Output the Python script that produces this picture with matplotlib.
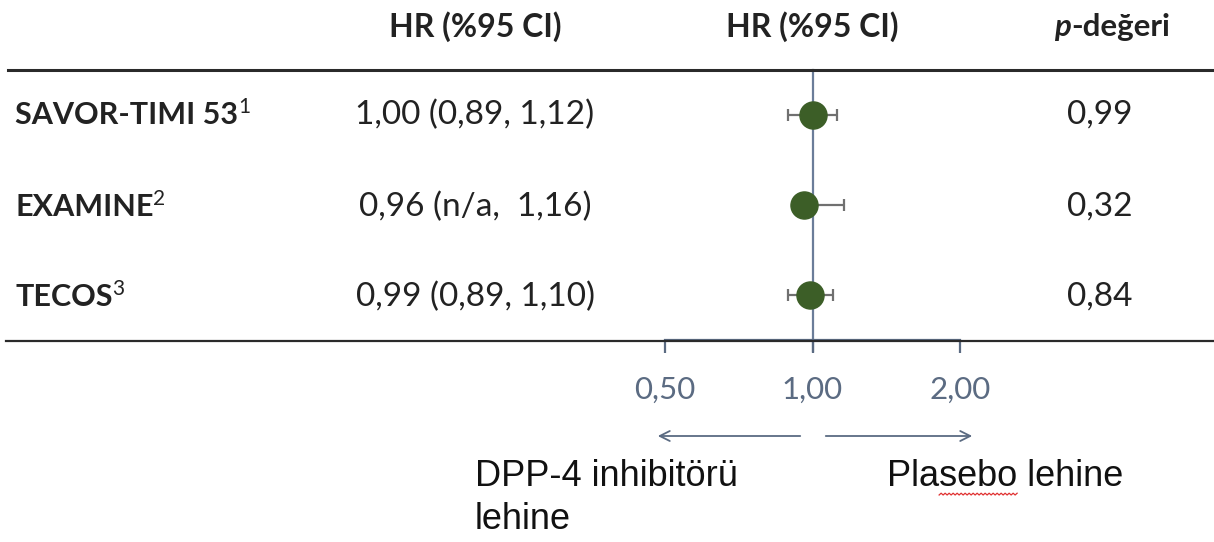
import matplotlib
matplotlib.use("Agg")
import matplotlib.pyplot as plt
from matplotlib.lines import Line2D
from matplotlib.patches import FancyArrowPatch
import numpy as np

# forest plot data
studies = ["SAVOR-TIMI 53", "EXAMINE", "TECOS"]
refs = ["1", "2", "3"]
hr = [1.00, 0.96, 0.99]
ci_low = [0.89, None, 0.89]
ci_high = [1.12, 1.16, 1.10]
hr_text = ["1,00 (0,89, 1,12)", "0,96 (n/a,  1,16)", "0,99 (0,89, 1,10)"]
p_values = ["0,99", "0,32", "0,84"]
ticks = [0.5, 1.0, 2.0]
tick_labels = ["0,50", "1,00", "2,00"]

W, H = 1214, 542
FONT = "Lato"
SLATE = "#5b6b82"
GREEN = "#3c5e27"
TXT = "#222222"

fig = plt.figure(figsize=(W / 100, H / 100), dpi=100)
fig.patch.set_facecolor("white")


def fx(px):
    return px / W


def fy(py):
    return 1 - py / H


renderer = fig.canvas.get_renderer()


def runs(x, y, parts, ha="left"):
    # draw consecutive text pieces with their own styles, left to right
    widths = []
    for txt, kw in parts:
        kw = {k: v for k, v in kw.items() if k != "dy"}
        t = fig.text(0, 0, txt, family=FONT, **kw)
        widths.append(t.get_window_extent(renderer).width)
        t.remove()
    total = sum(widths)
    cur = x - total / 2 if ha == "center" else x
    for (txt, kw), w in zip(parts, widths):
        kw = dict(kw)
        dy = kw.pop("dy", 0)
        fig.text(fx(cur), fy(y + dy), txt, family=FONT, va="center", color=TXT, **kw)
        cur += w


# header row
fig.text(fx(475), fy(27), "HR (%95 CI)", family=FONT, fontsize=23, fontweight="bold",
         ha="center", va="center", color=TXT)
fig.text(fx(812), fy(27), "HR (%95 CI)", family=FONT, fontsize=23, fontweight="bold",
         ha="center", va="center", color=TXT)
runs(1112, 27, [("p", dict(fontsize=22.5, fontweight="bold", style="italic")),
                ("-değeri", dict(fontsize=22.5, fontweight="bold"))], ha="center")

# table rules
fig.add_artist(Line2D([fx(8), 1], [fy(70), fy(70)], color="#2a2a2a", lw=2.2))
fig.add_artist(Line2D([fx(6), 1], [fy(341), fy(341)], color="#2a2a2a", lw=1.6))

# forest axes: 0.5 .. 2 on a log scale, rows top to bottom
ax = fig.add_axes([fx(665), fy(340), fx(960) - fx(665), (340 - 70) / H])
ax.set_xscale("log")
ax.set_xlim(0.5, 2)
ax.set_ylim(2.5, -0.5)
ax.patch.set_alpha(0)
for s in ["top", "left", "right"]:
    ax.spines[s].set_visible(False)
ax.spines["bottom"].set_color(SLATE)
ax.spines["bottom"].set_linewidth(1.6)
ax.set_yticks([])
ax.set_xticks(ticks)
ax.set_xticklabels(tick_labels)
ax.xaxis.set_minor_locator(matplotlib.ticker.NullLocator())
ax.tick_params(axis="x", direction="out", length=9, width=1.6, color=SLATE,
               labelcolor=SLATE, labelsize=22.5, pad=17)
for lab in ax.get_xticklabels():
    lab.set_family(FONT)

ax.axvline(1.0, ymin=-0.04, ymax=1, color="#6b7d99", lw=1.6, clip_on=False, zorder=1)

rows = np.arange(len(studies))
for i in rows:
    lo = ci_low[i] if ci_low[i] is not None else hr[i]
    ax.errorbar(hr[i], i, xerr=[[hr[i] - lo], [ci_high[i] - hr[i]]], fmt="none",
                ecolor="#707070", elinewidth=1.6, capsize=4, capthick=1.6, zorder=2)
    ax.plot(hr[i], i, "o", ms=19.5, color=GREEN, zorder=3)

# study names, HR text and p-values
row_px = [115, 207, 297]
for i, name in enumerate(studies):
    yp = row_px[i]
    runs(15, yp, [(name, dict(fontsize=22, fontweight="bold")),
                  (refs[i], dict(fontsize=15, dy=-8))])
    fig.text(fx(475), fy(yp), hr_text[i], family=FONT, fontsize=24,
             ha="center", va="center", color=TXT)
    fig.text(fx(1100), fy(yp), p_values[i], family=FONT, fontsize=24,
             ha="center", va="center", color=TXT)

# direction arrows
for x0, x1 in [(803, 655), (823, 975)]:
    fig.add_artist(FancyArrowPatch((fx(x0), fy(436)), (fx(x1), fy(436)),
                                   transform=fig.transFigure, arrowstyle="->",
                                   mutation_scale=18, color=SLATE, lw=1.3))

fig.text(fx(475), fy(459), "DPP-4 inhibitörü\nlehine", family="Liberation Sans",
         fontsize=26, ha="left", va="top", color="#111111", linespacing=1.3)
pl = fig.text(fx(887), fy(459), "Plasebo lehine", family="Liberation Sans",
              fontsize=26, ha="left", va="top", color="#111111")

# spell-check squiggle under "sebo"
def tw(s):
    t = fig.text(0, 0, s, family="Liberation Sans", fontsize=26)
    w = t.get_window_extent(renderer).width
    t.remove()
    return w

bb = pl.get_window_extent(renderer)
xa = bb.x0 + tw("Pla")
xb = bb.x0 + tw("Plasebo")
xs = np.arange(xa, xb + 0.1, 2.0)
ys = bb.y0 - 1 + np.where(np.arange(len(xs)) % 2 == 0, 0, 1.8)
fig.add_artist(Line2D(xs / W, ys / H, color="#e03030", lw=0.9))

fig.savefig("out.png", dpi=100)
